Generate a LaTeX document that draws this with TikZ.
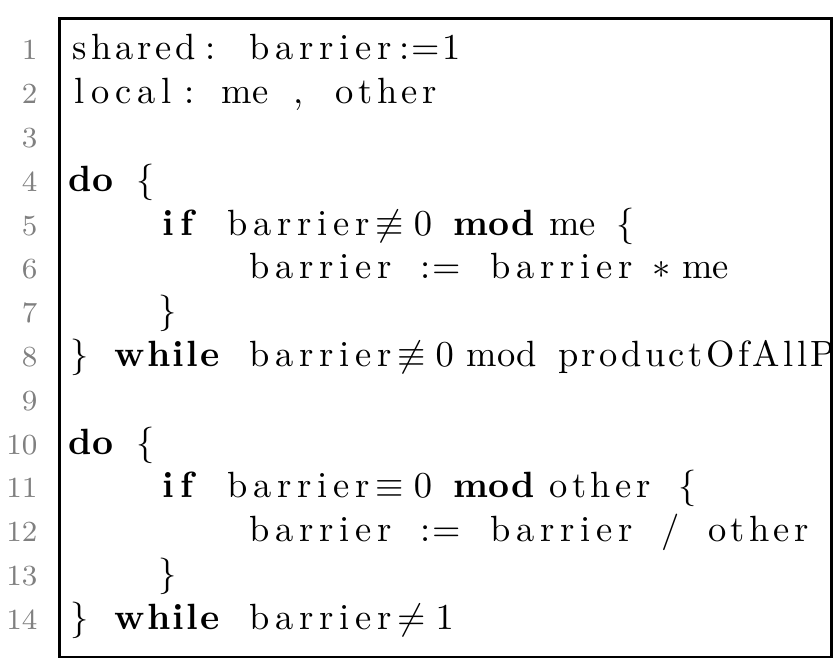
\documentclass[tikz,border=0pt]{standalone}
\usepackage{amsmath}
\usepackage{amssymb}
\usepackage{tikz}
\usetikzlibrary{calc}
\definecolor{numgray}{gray}{0.5}

\newlength\colw
\setlength\colw{6pt}
\newlength\pxl
\setlength\pxl{0.274pt}
\newdimen\lostsp
\makeatletter
\newcount\cw@n
% one word set in fixed columns, natural width if it does not fit
\newcommand\cw[1]{%
  \cw@n=0
  \@tfor\cw@c:=#1\do{\advance\cw@n by 1 }%
  \setbox0=\hbox{#1}\dimen@=\cw@n\colw
  \ifdim\wd0>\dimen@
    \global\advance\lostsp by \wd0 \global\advance\lostsp by -\dimen@
    \box0
  \else
    \hbox to \dimen@{\hss\@tfor\cw@c:=#1\do{\cw@c\hss}}%
  \fi}
% spaces give back what a wide word took
\newcommand\sk[1][1]{%
  \dimen@=#1\colw \advance\dimen@ by -\lostsp
  \ifdim\dimen@<0pt \global\lostsp=-\dimen@ \dimen@=0pt
  \else \global\lostsp=0pt \fi
  \hspace*{\dimen@}}
\makeatother
\newcommand\kw[1]{{\bfseries\cw{#1}}}

\begin{document}
\begin{tikzpicture}[x=0.274pt,y=-0.274pt,
    codeline/.style={anchor=base west,inner sep=0pt,font=\normalsize,
        execute at begin node={\global\lostsp=0pt}},
    numline/.style={anchor=base east,inner sep=0pt,font=\footnotesize,text=numgray}]
    \useasboundingbox (0,0) rectangle (836,669);

    \foreach \i in {1,...,14}
        \path (38,{60+(\i-1)*43.8}) node[numline] (n\i) {\i};

    \begin{scope}
    \clip (59.5,18.5) rectangle (831.5,657);
    \path (68,60) node[codeline] (c1) {\cw{shared}\cw{:}\sk\cw{barrier}\cw{:=1}};
    \path (68,103.8) node[codeline] (c2) {\cw{local}\cw{:}\sk\cw{me}\sk\cw{,}\sk\cw{other}};
    \path (68,191.4) node[codeline] (c4) {\kw{do}\sk\cw{\{}};
    \path (68,235.2) node[codeline] (c5) {\sk[4]\kw{if}\sk\cw{barrier}$\not\equiv 0$\sk{\bfseries mod}\hspace{15\pxl}\cw{me}\sk\cw{\{}};
    \path (68,279) node[codeline] (c6) {\sk[8]\cw{barrier}\sk\cw{:=}\sk\cw{barrier}\hspace{14\pxl}$\ast$\hspace{12\pxl}\cw{me}};
    \path (68,322.8) node[codeline] (c7) {\sk[4]\cw{\}}};
    \path (68,366.6) node[codeline] (c8) {\cw{\}}\sk\kw{while}\sk\cw{barrier}$\not\equiv 0$\hspace{13\pxl}\cw{mod}\sk\cw{productOfAllP}};
    \path (68,454.2) node[codeline] (c10) {\kw{do}\sk\cw{\{}};
    \path (68,498) node[codeline] (c11) {\sk[4]\kw{if}\sk\cw{barrier}$\equiv 0$\sk{\bfseries mod}\hspace{11\pxl}\cw{other}\sk\cw{\{}};
    \path (68,541.8) node[codeline] (c12) {\sk[8]\cw{barrier}\sk\cw{:=}\sk\cw{barrier}\sk\cw{/}\sk\cw{other}};
    \path (68,585.6) node[codeline] (c13) {\sk[4]\cw{\}}};
    \path (68,629.4) node[codeline] (c14) {\cw{\}}\sk\kw{while}\sk\cw{barrier}$\neq 1$};
    \end{scope}

    \draw[line width=0.7pt] (59.5,18.5) rectangle (831.5,657);
\end{tikzpicture}
\end{document}
